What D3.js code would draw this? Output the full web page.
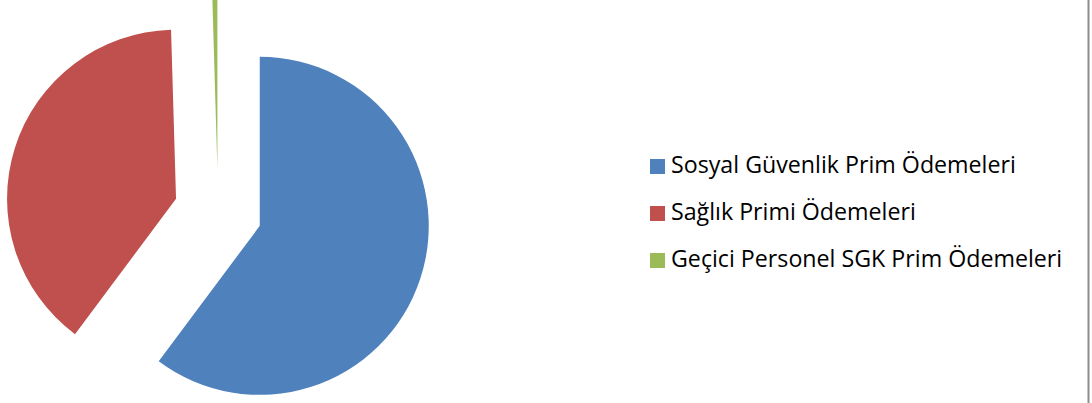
<!DOCTYPE html>
<html>
<head>
<meta charset="utf-8">
<script src="https://cdn.jsdelivr.net/npm/d3@7"></script>
<style>
  body { margin: 0; background: #fff; }
  svg { display: block; }
</style>
</head>
<body>
<div id="chart"></div>
<script>
const width = 1092, height = 403;

// data (shares of the pie)
const labels = ["Sosyal Güvenlik Prim Ödemeleri", "Sağlık Primi Ödemeleri", "Geçici Personel SGK Prim Ödemeleri"];
const values = [60.2, 39.33, 0.47];
const colors = ["#4F81BD", "#C0504D", "#9BBB59"];

const data = labels.map((l, i) => ({ label: l, value: values[i], color: colors[i] }));

const svg = d3.select("#chart")
    .append("svg")
    .attr("width", width)
    .attr("height", height);

// chart border on the right
svg.append("line")
    .attr("x1", 1088.5).attr("x2", 1088.5)
    .attr("y1", 0).attr("y2", height)
    .attr("stroke", "#8e8e8e")
    .attr("stroke-width", 2);

const cx = 218, cy = 212, radius = 169, explode = 44;

const pie = d3.pie()
    .sort(null)
    .value(d => d.value)
    .startAngle(0)
    .endAngle(2 * Math.PI);

const arc = d3.arc()
    .innerRadius(0)
    .outerRadius(radius);

const pieG = svg.append("g")
    .attr("transform", `translate(${cx}, ${cy})`);

// exploded slices
pieG.selectAll("path")
    .data(pie(data))
    .join("path")
    .attr("d", arc)
    .attr("fill", d => d.data.color)
    .attr("transform", d => {
        const mid = (d.startAngle + d.endAngle) / 2;
        return `translate(${Math.sin(mid) * explode}, ${-Math.cos(mid) * explode})`;
    });

// legend
const legend = svg.append("g")
    .attr("transform", "translate(650, 173)");

const items = legend.selectAll(".item")
    .data(data)
    .join("g")
    .attr("class", "item")
    .attr("transform", (d, i) => `translate(0, ${i * 47})`);

items.append("rect")
    .attr("x", 0)
    .attr("y", -14)
    .attr("width", 15)
    .attr("height", 15)
    .attr("fill", d => d.color);

const texts = items.append("text")
    .attr("x", 21)
    .attr("y", 0)
    .style("font-family", "'Open Sans', 'Noto Sans', sans-serif")
    .style("font-size", "20px")
    .style("fill", "#000")
    .text(d => d.label);

// fit font size so the first label spans about 345px like the reference
const w0 = texts.node().getComputedTextLength();
const fs = 20 * 345 / w0;
texts.style("font-size", fs + "px");
</script>
</body>
</html>
